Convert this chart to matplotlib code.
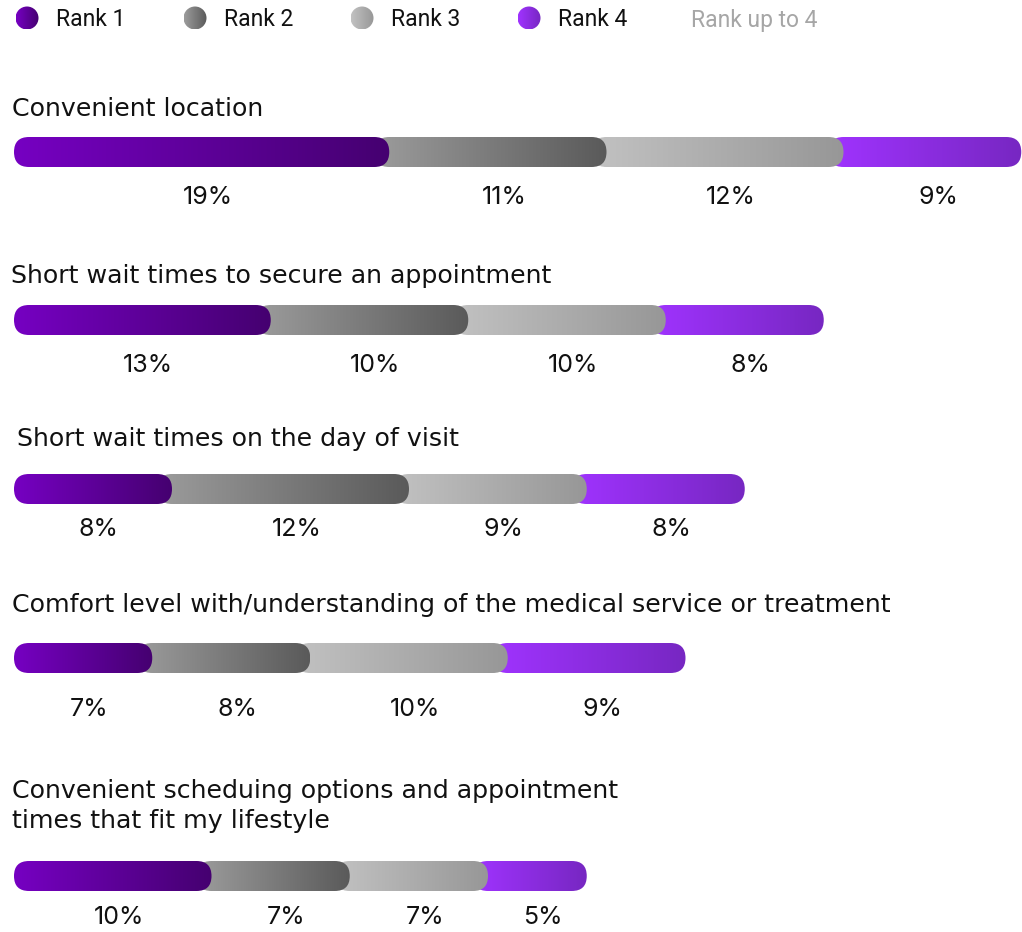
import numpy as np
import matplotlib
matplotlib.use("Agg")
import matplotlib.pyplot as plt
from matplotlib.patches import FancyBboxPatch, Ellipse
from matplotlib.colors import LinearSegmentedColormap

# --- data -------------------------------------------------------------
titles = [
    "Convenient location",
    "Short wait times to secure an appointment",
    "Short wait times on the day of visit",
    "Comfort level with/understanding of the medical service or treatment",
    "Convenient scheduing options and appointment\ntimes that fit my lifestyle",
]
rank1 = [19, 13, 8, 7, 10]
rank2 = [11, 10, 12, 8, 7]
rank3 = [12, 10, 9, 10, 7]
rank4 = [9, 8, 8, 9, 5]
legend_labels = ["Rank 1", "Rank 2", "Rank 3", "Rank 4"]
legend_extra = "Rank up to 4"

# --- styling ----------------------------------------------------------
W, H, DPI = 1022, 932, 100
PX = 19.75          # pixels per percentage point
X0 = 14             # pixel where 0% sits
BAR_H = 30
R = BAR_H / 2

gradients = [
    ("#7600c2", "#450070"),
    ("#9c9c9c", "#5a5a5a"),
    ("#c2c2c2", "#979797"),
    ("#a033ff", "#7727c2"),
]

bar_y = [152, 320, 489, 658, 876]
title_y = [109, 276, 439, 605, 806]
title_x = [12, 11, 17, 12, 12]
label_y = [198, 365, 530, 709, 917]

TITLE_FONT = "DejaVu Sans"
LABEL_FONT = "Inter"
TEXT = "#111111"

fig = plt.figure(figsize=(W / DPI, H / DPI), dpi=DPI)
ax = fig.add_axes([0, 0, 1, 1])
xmin, xmax = -X0 / PX, (W - X0) / PX
ax.axis("off")


def px_to_x(p):
    return (p - X0) / PX


def gradient_pill(x0, x1, yc, c0, c1, zorder):
    patch = FancyBboxPatch(
        (x0, yc - R), x1 - x0, BAR_H,
        boxstyle=f"round,pad=0,rounding_size={R / PX}",
        mutation_aspect=PX,
        facecolor="none", edgecolor="none", zorder=zorder,
    )
    ax.add_patch(patch)
    cmap = LinearSegmentedColormap.from_list("g", [c0, c1])
    grad = np.linspace(0, 1, 256).reshape(1, -1)
    im = ax.imshow(grad, extent=[x0, x1, yc + R, yc - R], aspect="auto",
                   cmap=cmap, interpolation="bilinear", zorder=zorder)
    im.set_clip_path(patch)


def gradient_dot(xc, yc, d, c0, c1):
    w = d / PX
    e = Ellipse((xc, yc), w, d, facecolor="none", edgecolor="none", zorder=5)
    ax.add_patch(e)
    cmap = LinearSegmentedColormap.from_list("g", [c0, c1])
    grad = np.linspace(0, 1, 64).reshape(1, -1)
    im = ax.imshow(grad, extent=[xc - w / 2, xc + w / 2, yc + d / 2, yc - d / 2],
                   aspect="auto", cmap=cmap, interpolation="bilinear", zorder=5)
    im.set_clip_path(e)


# --- legend -----------------------------------------------------------
dot_px = [27, 195, 362, 529]
for i, lab in enumerate(legend_labels):
    gradient_dot(px_to_x(dot_px[i]), 18, 23, *gradients[i])
    ax.text(px_to_x(dot_px[i] + 29), 20, lab, fontsize=16.5, family="Roboto",
            color=TEXT, va="center", ha="left")
ax.text(px_to_x(691), 20, legend_extra, fontsize=16.5, family="Roboto",
        color="#a6a6a6", va="center", ha="left")

# --- bars -------------------------------------------------------------
for row in range(len(titles)):
    vals = [rank1[row], rank2[row], rank3[row], rank4[row]]
    cum = np.cumsum([0] + vals)
    yc = bar_y[row]
    ax.text(px_to_x(title_x[row]), title_y[row], titles[row], fontsize=18.2,
            family=TITLE_FONT, color=TEXT, va="center", ha="left",
            linespacing=1.28)
    # later ranks sit underneath the rounded cap of the previous one
    for k in range(3, -1, -1):
        start = cum[k] - (R / PX if k > 0 else 0)
        gradient_pill(start, cum[k + 1], yc, *gradients[k], zorder=2 + (3 - k))
        ax.text((cum[k] + cum[k + 1]) / 2 + 0.3, label_y[row], f"{vals[k]}%",
                fontsize=18, family=LABEL_FONT, color=TEXT,
                va="center", ha="center")

ax.set_xlim(xmin, xmax)
ax.set_ylim(H, 0)
fig.savefig("out.png", dpi=DPI, facecolor="white")
